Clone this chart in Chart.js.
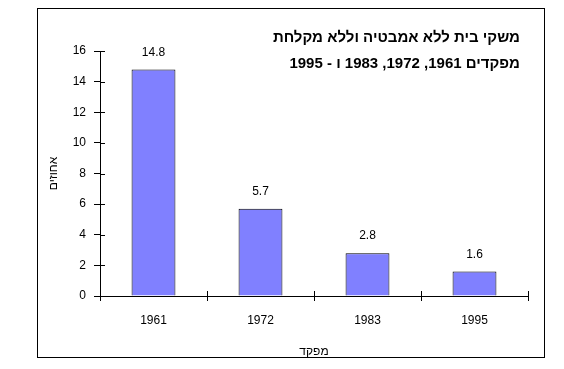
<!DOCTYPE html>
<html>
<head>
<meta charset="utf-8">
<script src="https://cdn.jsdelivr.net/npm/chart.js@4.4.0/dist/chart.umd.min.js"></script>
<style>
  html, body { margin: 0; padding: 0; background: #fff; }
  #wrap { position: relative; width: 564px; height: 369px; }
  #frame { position: absolute; left: 37px; top: 8px; width: 508px; height: 350px;
           border: 1px solid #000; box-sizing: border-box; pointer-events: none; }
</style>
</head>
<body>
<div id="wrap">
  <canvas id="bath_chart" width="564" height="369"></canvas>
  <div id="frame"></div>
</div>
<script>
const censusYears = ["1961", "1972", "1983", "1995"];
const percentNoBath = [14.8, 5.7, 2.8, 1.6];
const titleLines = ["משקי בית ללא אמבטיה וללא מקלחת", "מפקדים 1961, 1972, 1983 ו - 1995"];
const yTitle = "אחוזים";
const xTitle = "מפקד";

const FONT = "'Liberation Sans', Arial, sans-serif";

// title box, value labels and the ticks that cross the axes
const extras = {
  id: "extras",
  afterDatasetsDraw(chart) {
    const ctx = chart.ctx;
    const meta = chart.getDatasetMeta(0);
    ctx.save();
    ctx.fillStyle = "#000";
    ctx.font = "12px " + FONT;
    ctx.textAlign = "center";
    ctx.textBaseline = "middle";
    meta.data.forEach((bar, i) => {
      ctx.fillText(percentNoBath[i].toFixed(1), bar.x, bar.y - 17);
    });
    ctx.restore();
  },
  afterDraw(chart) {
    const ctx = chart.ctx;
    const area = chart.chartArea;
    const y = chart.scales.y;
    const x = chart.scales.x;
    ctx.save();
    ctx.strokeStyle = "#000";
    ctx.lineWidth = 1;
    ctx.beginPath();
    y.ticks.forEach((t, i) => {
      const py = Math.round(y.getPixelForTick(i)) + 0.5;
      ctx.moveTo(area.left, py);
      ctx.lineTo(area.left + 5, py);
    });
    for (let i = 0; i <= censusYears.length; i++) {
      const px = Math.round(x.left + (x.width / censusYears.length) * i) + 0.5;
      ctx.moveTo(px, area.bottom);
      ctx.lineTo(px, area.bottom - 5);
    }
    ctx.stroke();

    ctx.direction = "rtl";
    ctx.textAlign = "right";
    ctx.textBaseline = "middle";
    ctx.font = "bold 15px " + FONT;
    ctx.fillText(titleLines[0], 520, 38);
    ctx.fillText(titleLines[1], 520, 64);
    ctx.restore();
  }
};

new Chart(document.getElementById("bath_chart"), {
  type: "bar",
  data: {
    labels: censusYears,
    datasets: [{
      data: percentNoBath,
      backgroundColor: "#8080FF",
      borderColor: "#000",
      borderWidth: 1,
      barPercentage: 0.41,
      categoryPercentage: 1
    }]
  },
  options: {
    responsive: false,
    animation: false,
    layout: { padding: { left: 0, top: 51, right: 36, bottom: 0 } },
    plugins: { legend: { display: false }, tooltip: { enabled: false } },
    scales: {
      x: {
        grid: { offset: true, drawOnChartArea: false, tickLength: 5, color: "#000" },
        border: { color: "#000" },
        ticks: { color: "#000", font: { family: FONT, size: 12 }, padding: 12 },
        title: { display: true, text: xTitle, color: "#000",
                 font: { family: FONT, size: 12 }, padding: { top: 0, bottom: 10 } },
        afterFit(s) { s.height = 73; }
      },
      y: {
        min: 0, max: 16,
        grid: { drawOnChartArea: false, tickLength: 6, color: "#000" },
        border: { color: "#000" },
        ticks: { stepSize: 2, color: "#000", font: { family: FONT, size: 12 }, padding: 8 },
        title: { display: true, text: yTitle, color: "#000",
                 font: { family: FONT, size: 12 }, padding: { top: 46, bottom: 0 } },
        afterFit(s) { s.width = 100; }
      }
    }
  },
  plugins: [extras]
});
</script>
</body>
</html>
